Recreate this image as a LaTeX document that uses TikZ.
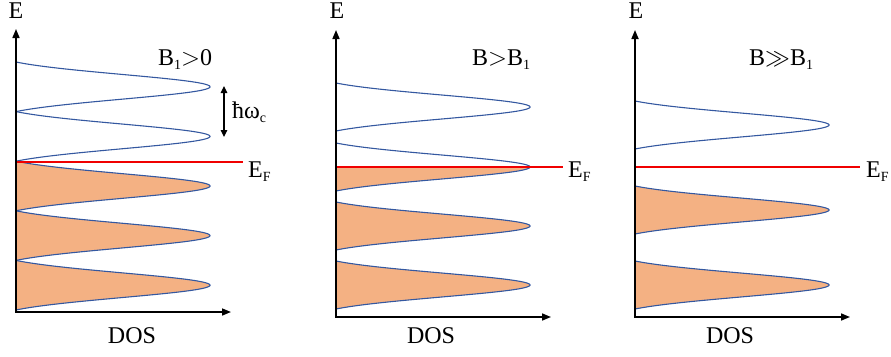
\documentclass[tikz,border=0pt]{standalone}
\usepackage{fontspec}
\setmainfont{Liberation Serif}
\usetikzlibrary{arrows.meta}
\definecolor{peach}{RGB}{244,177,131}
\definecolor{curveblue}{RGB}{52,88,160}
\definecolor{efred}{RGB}{240,0,0}
\newcommand{\sbs}[1]{\raisebox{-0.4ex}{\fontsize{14}{15}\selectfont #1}}
% #1 axis x, #2 centre y, #3 half height
\newcommand{\dlobe}[3]{\draw[lobe] (#1,#2-#3) -- plot[domain=-1:1,samples=70,smooth] ({#1+194*(exp(-2*\x*\x)-0.135335)/0.864665},{#2+#3*\x});}
\newcommand{\flobe}[3]{\fill[peach] (#1,#2-#3) -- plot[domain=-1:1,samples=70,smooth] ({#1+194*(exp(-2*\x*\x)-0.135335)/0.864665},{#2+#3*\x}) -- cycle;}
\newcommand{\hlobe}[3]{\fill[peach] (#1,#2) -- plot[domain=0:1,samples=40,smooth] ({#1+194*(exp(-2*\x*\x)-0.135335)/0.864665},{#2+#3*\x}) -- cycle;}
\begin{document}
\begin{tikzpicture}[x=1pt,y=-1pt,
  lobe/.style={curveblue,line width=1.1pt},
  axisline/.style={black,line width=1.6pt,-{Triangle[length=9pt,width=7pt]}},
  efline/.style={efred,line width=1.8pt},
  lbl/.style={font=\fontsize{24}{28}\selectfont,inner sep=0pt},
  hw/.style={black,line width=1.1pt,{Triangle[length=7pt,width=6.5pt]}-{Triangle[length=7pt,width=6.5pt]}}]
\useasboundingbox (0,0) rectangle (891,356);
% ---------- panel 1 ----------
\coordinate (o1) at (16,312);
\coordinate (t1) at (16,29);
\coordinate (r1) at (231,312);
\foreach \cy in {186,235.6,285.2} {\flobe{16}{\cy}{24.8}}
\foreach \cy in {86.8,136.4,186,235.6,285.2} {\dlobe{16}{\cy}{24.8}}
\coordinate (ef1a) at (16,162);
\coordinate (ef1b) at (243,162);
\draw[efline] (ef1a) -- (ef1b);
\draw[axisline] (o1) -- (t1);
\draw[axisline] ([xshift=-0.8pt]o1) -- (r1);
\coordinate (hwa) at (224,86);
\coordinate (hwb) at (224,137);
\draw[hw] (hwa) -- (hwb);
\node[lbl,anchor=base] (E1) at (16,18) {E};
\node[lbl,anchor=base] (D1) at (132,343) {DOS};
\node[lbl,anchor=base west] (B1) at (158,65) {B\sbs{1}${>}$0};
\node[lbl,anchor=base west] (F1) at (248,177) {E\sbs{F}};
\node[lbl,anchor=base west] (hbar) at (232,118) {ħω\sbs{c}};
% ---------- panel 2 ----------
\coordinate (o2) at (336,317);
\coordinate (t2) at (336,30);
\coordinate (r2) at (551,317);
\hlobe{336}{167}{24}
\foreach \cy in {226,285} {\flobe{336}{\cy}{24}}
\foreach \cy in {107,167,226,285} {\dlobe{336}{\cy}{24}}
\coordinate (ef2a) at (336,167);
\coordinate (ef2b) at (563,167);
\draw[efline] (ef2a) -- (ef2b);
\draw[axisline] (o2) -- (t2);
\draw[axisline] ([xshift=-0.8pt]o2) -- (r2);
\node[lbl,anchor=base] (E2) at (337,18) {E};
\node[lbl,anchor=base] (D2) at (431,343) {DOS};
\node[lbl,anchor=base west] (B2) at (472,65) {B${>}$B\sbs{1}};
\node[lbl,anchor=base west] (F2) at (568,177) {E\sbs{F}};
% ---------- panel 3 ----------
\coordinate (o3) at (635,317);
\coordinate (t3) at (635,30);
\coordinate (r3) at (850,317);
\foreach \cy in {210,285} {\flobe{635}{\cy}{24}}
\foreach \cy in {125,210,285} {\dlobe{635}{\cy}{24}}
\coordinate (ef3a) at (635,167);
\coordinate (ef3b) at (860,167);
\draw[efline] (ef3a) -- (ef3b);
\draw[axisline] (o3) -- (t3);
\draw[axisline] ([xshift=-0.8pt]o3) -- (r3);
\node[lbl,anchor=base] (E3) at (636,18) {E};
\node[lbl,anchor=base] (D3) at (730,343) {DOS};
\node[lbl,anchor=base west] (B3) at (749,65) {B${\gg}$B\sbs{1}};
\node[lbl,anchor=base west] (F3) at (866,177) {E\sbs{F}};
\end{tikzpicture}
\end{document}
